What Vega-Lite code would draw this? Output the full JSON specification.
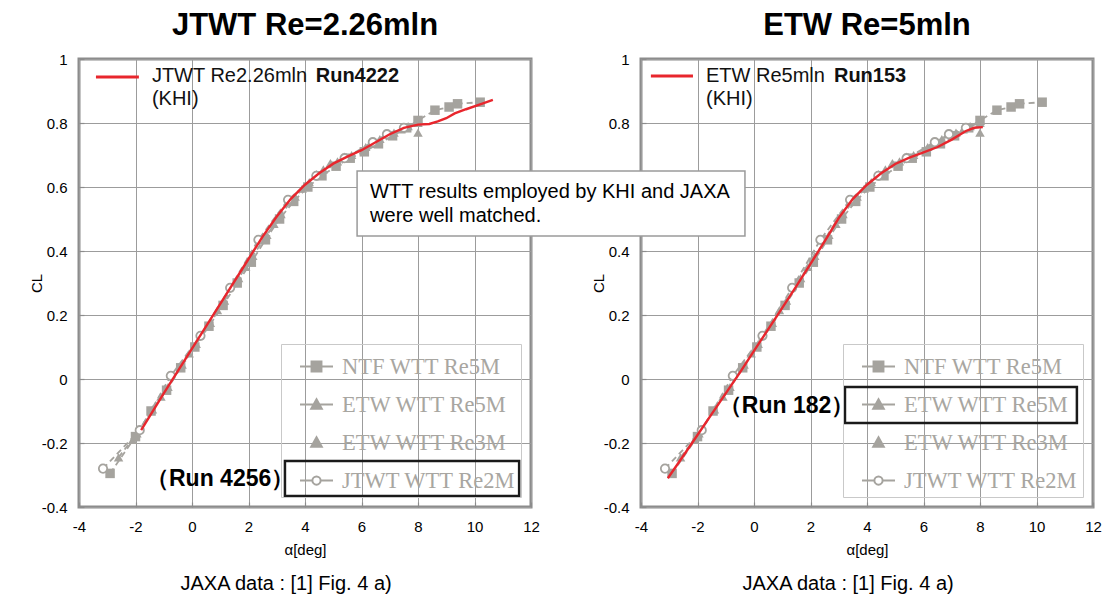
{
  "$schema": "https://vega.github.io/schema/vega-lite/v6.json",
  "padding": {"left": 27, "top": 8, "right": 4, "bottom": 5},
  "bounds": "flush",
  "spacing": 110,
  "config": {
    "view": {"stroke": "#8c8c8c", "strokeWidth": 3},
    "font": "Liberation Sans",
    "title": {"font": "Liberation Sans", "fontSize": 31, "fontWeight": "bold", "color": "#000000", "offset": 10, "anchor": "middle"},
    "axis": {
      "domain": false, "grid": true, "tickSize": -5, "tickColor": "#8c8c8c", "tickWidth": 1.2,
      "labelFont": "Liberation Sans", "labelFontSize": 15, "labelColor": "#000000",
      "titleFont": "Liberation Sans", "titleFontSize": 15, "titleFontWeight": "normal", "titleColor": "#000000",
      "labelFlush": false, "labelOverlap": false, "gridWidth": 1
    },
    "legend": {"orient": "bottom-right", "offset": 10, "title": null, "labelFont": "Liberation Serif", "labelFontSize": 22.5, "labelColor": "#a8a6a1", "strokeColor": "#c9c9c9", "padding": 5, "rowPadding": 9, "symbolSize": 1089, "symbolOffset": 13, "symbolStrokeWidth": 2, "labelOffset": 8, "labelLimit": 400}
  },
  "datasets": {
    "jaxa": [
      {"series": "NTF WTT Re5M", "alpha": -2.9, "cl": -0.295},
      {"series": "NTF WTT Re5M", "alpha": -2.0, "cl": -0.18},
      {"series": "NTF WTT Re5M", "alpha": -1.45, "cl": -0.1},
      {"series": "NTF WTT Re5M", "alpha": -0.9, "cl": -0.035},
      {"series": "NTF WTT Re5M", "alpha": -0.4, "cl": 0.035},
      {"series": "NTF WTT Re5M", "alpha": 0.1, "cl": 0.1},
      {"series": "NTF WTT Re5M", "alpha": 0.6, "cl": 0.165},
      {"series": "NTF WTT Re5M", "alpha": 1.1, "cl": 0.23},
      {"series": "NTF WTT Re5M", "alpha": 1.6, "cl": 0.3},
      {"series": "NTF WTT Re5M", "alpha": 2.1, "cl": 0.365},
      {"series": "NTF WTT Re5M", "alpha": 2.6, "cl": 0.435},
      {"series": "NTF WTT Re5M", "alpha": 3.1, "cl": 0.5},
      {"series": "NTF WTT Re5M", "alpha": 3.6, "cl": 0.555},
      {"series": "NTF WTT Re5M", "alpha": 4.1, "cl": 0.6},
      {"series": "NTF WTT Re5M", "alpha": 4.6, "cl": 0.635},
      {"series": "NTF WTT Re5M", "alpha": 5.1, "cl": 0.665},
      {"series": "NTF WTT Re5M", "alpha": 5.6, "cl": 0.69},
      {"series": "NTF WTT Re5M", "alpha": 6.1, "cl": 0.71},
      {"series": "NTF WTT Re5M", "alpha": 6.6, "cl": 0.735},
      {"series": "NTF WTT Re5M", "alpha": 7.1, "cl": 0.76},
      {"series": "NTF WTT Re5M", "alpha": 7.6, "cl": 0.785},
      {"series": "NTF WTT Re5M", "alpha": 8.0, "cl": 0.808},
      {"series": "NTF WTT Re5M", "alpha": 8.6, "cl": 0.84},
      {"series": "NTF WTT Re5M", "alpha": 9.1, "cl": 0.85},
      {"series": "NTF WTT Re5M", "alpha": 9.4, "cl": 0.86},
      {"series": "NTF WTT Re5M", "alpha": 10.2, "cl": 0.865},
      {"series": "ETW WTT Re5M", "alpha": -2.6, "cl": -0.245},
      {"series": "ETW WTT Re5M", "alpha": -1.95, "cl": -0.17},
      {"series": "ETW WTT Re5M", "alpha": -1.4, "cl": -0.095},
      {"series": "ETW WTT Re5M", "alpha": -0.85, "cl": -0.025},
      {"series": "ETW WTT Re5M", "alpha": -0.35, "cl": 0.045},
      {"series": "ETW WTT Re5M", "alpha": 0.15, "cl": 0.11},
      {"series": "ETW WTT Re5M", "alpha": 0.65, "cl": 0.175},
      {"series": "ETW WTT Re5M", "alpha": 1.15, "cl": 0.245},
      {"series": "ETW WTT Re5M", "alpha": 1.65, "cl": 0.315},
      {"series": "ETW WTT Re5M", "alpha": 2.15, "cl": 0.385},
      {"series": "ETW WTT Re5M", "alpha": 2.65, "cl": 0.45},
      {"series": "ETW WTT Re5M", "alpha": 3.15, "cl": 0.515},
      {"series": "ETW WTT Re5M", "alpha": 3.65, "cl": 0.57},
      {"series": "ETW WTT Re5M", "alpha": 4.15, "cl": 0.615},
      {"series": "ETW WTT Re5M", "alpha": 4.65, "cl": 0.655},
      {"series": "ETW WTT Re5M", "alpha": 5.15, "cl": 0.68},
      {"series": "ETW WTT Re5M", "alpha": 5.65, "cl": 0.7},
      {"series": "ETW WTT Re5M", "alpha": 6.15, "cl": 0.725},
      {"series": "ETW WTT Re5M", "alpha": 6.65, "cl": 0.75},
      {"series": "ETW WTT Re5M", "alpha": 7.15, "cl": 0.77},
      {"series": "ETW WTT Re5M", "alpha": 7.65, "cl": 0.79},
      {"series": "ETW WTT Re5M", "alpha": 8.0, "cl": 0.8},
      {"series": "ETW WTT Re3M", "alpha": -2.1, "cl": -0.19},
      {"series": "ETW WTT Re3M", "alpha": -1.1, "cl": -0.055},
      {"series": "ETW WTT Re3M", "alpha": -0.1, "cl": 0.08},
      {"series": "ETW WTT Re3M", "alpha": 0.9, "cl": 0.215},
      {"series": "ETW WTT Re3M", "alpha": 1.9, "cl": 0.35},
      {"series": "ETW WTT Re3M", "alpha": 2.9, "cl": 0.485},
      {"series": "ETW WTT Re3M", "alpha": 3.9, "cl": 0.595},
      {"series": "ETW WTT Re3M", "alpha": 4.4, "cl": 0.64},
      {"series": "ETW WTT Re3M", "alpha": 4.9, "cl": 0.675},
      {"series": "ETW WTT Re3M", "alpha": 5.4, "cl": 0.695},
      {"series": "ETW WTT Re3M", "alpha": 6.3, "cl": 0.735},
      {"series": "ETW WTT Re3M", "alpha": 6.9, "cl": 0.765},
      {"series": "ETW WTT Re3M", "alpha": 7.4, "cl": 0.78},
      {"series": "ETW WTT Re3M", "alpha": 8.0, "cl": 0.77},
      {"series": "JTWT WTT Re2M", "alpha": -3.15, "cl": -0.28},
      {"series": "JTWT WTT Re2M", "alpha": -1.85, "cl": -0.16},
      {"series": "JTWT WTT Re2M", "alpha": -0.75, "cl": 0.01},
      {"series": "JTWT WTT Re2M", "alpha": 0.3, "cl": 0.135},
      {"series": "JTWT WTT Re2M", "alpha": 1.35, "cl": 0.285},
      {"series": "JTWT WTT Re2M", "alpha": 2.35, "cl": 0.435},
      {"series": "JTWT WTT Re2M", "alpha": 3.4, "cl": 0.56},
      {"series": "JTWT WTT Re2M", "alpha": 4.4, "cl": 0.635},
      {"series": "JTWT WTT Re2M", "alpha": 5.4, "cl": 0.69},
      {"series": "JTWT WTT Re2M", "alpha": 6.4, "cl": 0.74},
      {"series": "JTWT WTT Re2M", "alpha": 6.9, "cl": 0.765},
      {"series": "JTWT WTT Re2M", "alpha": 7.5, "cl": 0.785}
    ],
    "khi_jtwt": [
      {"alpha": -1.8, "cl": -0.16}, {"alpha": -1.0, "cl": -0.045}, {"alpha": 0, "cl": 0.095},
      {"alpha": 1, "cl": 0.235}, {"alpha": 2, "cl": 0.375}, {"alpha": 2.5, "cl": 0.445},
      {"alpha": 3, "cl": 0.508}, {"alpha": 3.5, "cl": 0.563}, {"alpha": 4, "cl": 0.607},
      {"alpha": 4.5, "cl": 0.643}, {"alpha": 5, "cl": 0.673}, {"alpha": 5.5, "cl": 0.695},
      {"alpha": 6, "cl": 0.715}, {"alpha": 6.5, "cl": 0.74}, {"alpha": 7, "cl": 0.765},
      {"alpha": 7.5, "cl": 0.785}, {"alpha": 8, "cl": 0.795}, {"alpha": 8.4, "cl": 0.797},
      {"alpha": 8.7, "cl": 0.805}, {"alpha": 9.0, "cl": 0.815}, {"alpha": 9.3, "cl": 0.83},
      {"alpha": 9.7, "cl": 0.843}, {"alpha": 10.2, "cl": 0.858}, {"alpha": 10.65, "cl": 0.872}
    ],
    "khi_etw": [
      {"alpha": -3.05, "cl": -0.31}, {"alpha": -2.5, "cl": -0.24}, {"alpha": -2, "cl": -0.175},
      {"alpha": -1.5, "cl": -0.11}, {"alpha": -1, "cl": -0.045}, {"alpha": -0.5, "cl": 0.02},
      {"alpha": 0, "cl": 0.088}, {"alpha": 0.5, "cl": 0.155}, {"alpha": 1, "cl": 0.222},
      {"alpha": 1.5, "cl": 0.29}, {"alpha": 2, "cl": 0.36}, {"alpha": 2.5, "cl": 0.43},
      {"alpha": 3, "cl": 0.503}, {"alpha": 3.5, "cl": 0.563}, {"alpha": 4, "cl": 0.607},
      {"alpha": 4.5, "cl": 0.643}, {"alpha": 5, "cl": 0.672}, {"alpha": 5.5, "cl": 0.692},
      {"alpha": 6, "cl": 0.708}, {"alpha": 6.5, "cl": 0.725}, {"alpha": 7, "cl": 0.748},
      {"alpha": 7.5, "cl": 0.775}, {"alpha": 7.8, "cl": 0.785}, {"alpha": 8.1, "cl": 0.787}
    ]
  },
  "resolve": {"scale": {"shape": "independent", "color": "independent"}, "legend": {"shape": "independent", "color": "independent"}},
  "hconcat": [
    {
      "width": 452, "height": 448,
      "title": {"text": "JTWT Re=2.26mln"},
      "layer": [
        {
          "data": {"name": "jaxa"},
          "transform": [{"filter": "datum.series !== 'ETW WTT Re3M'"}],
          "mark": {"type": "line", "strokeDash": [6, 4], "strokeWidth": 1.8, "stroke": "#a5a39e"},
          "encoding": {
            "x": {"field": "alpha", "type": "quantitative", "scale": {"domain": [-4, 12], "nice": false, "zero": false},
              "axis": {"title": "α[deg]", "values": [-4,-3.5,-3,-2.5,-2,-1.5,-1,-0.5,0,0.5,1,1.5,2,2.5,3,3.5,4,4.5,5,5.5,6,6.5,7,7.5,8,8.5,9,9.5,10,10.5,11,11.5,12],
                "labelExpr": "datum.value % 2 === 0 ? '' + datum.value : ''",
                "gridColor": {"condition": {"test": "datum.value % 2 === 0", "value": "#9c9c9c"}, "value": "#cfcfcf"},
                "labelPadding": 17, "titlePadding": 8}},
            "y": {"field": "cl", "type": "quantitative", "scale": {"domain": [-0.4, 1], "nice": false, "zero": false},
              "axis": {"title": "CL", "values": [-0.4,-0.35,-0.3,-0.25,-0.2,-0.15,-0.1,-0.05,0,0.05,0.1,0.15,0.2,0.25,0.3,0.35,0.4,0.45,0.5,0.55,0.6,0.65,0.7,0.75,0.8,0.85,0.9,0.95,1],
                "labelExpr": "abs(datum.value*5 - round(datum.value*5)) < 0.001 ? '' + round(datum.value*10)/10 : ''",
                "gridColor": {"condition": {"test": "abs(datum.value*5 - round(datum.value*5)) < 0.001", "value": "#9c9c9c"}, "value": "#cfcfcf"},
                "labelPadding": 17, "titlePadding": -3}},
            "detail": {"field": "series"},
            "order": {"field": "alpha", "type": "quantitative"}
          }
        },
        {
          "data": {"name": "jaxa"},
          "transform": [{"filter": "datum.series === 'NTF WTT Re5M'"}],
          "mark": {"type": "point", "shape": "square", "filled": true, "size": 90, "opacity": 1, "fill": "#a5a39e"},
          "encoding": {
            "x": {"field": "alpha", "type": "quantitative", "scale": {"domain": [-4, 12], "nice": false, "zero": false}},
            "y": {"field": "cl", "type": "quantitative", "scale": {"domain": [-0.4, 1], "nice": false, "zero": false}}
          }
        },
        {
          "data": {"name": "jaxa"},
          "transform": [{"filter": "datum.series === 'ETW WTT Re5M' || datum.series === 'ETW WTT Re3M'"}],
          "mark": {"type": "point", "shape": "triangle-up", "filled": true, "size": 90, "opacity": 1, "fill": "#a5a39e"},
          "encoding": {
            "x": {"field": "alpha", "type": "quantitative", "scale": {"domain": [-4, 12], "nice": false, "zero": false}},
            "y": {"field": "cl", "type": "quantitative", "scale": {"domain": [-0.4, 1], "nice": false, "zero": false}}
          }
        },
        {
          "data": {"name": "jaxa"},
          "transform": [{"filter": "datum.series === 'JTWT WTT Re2M'"}],
          "mark": {"type": "point", "shape": "circle", "size": 70, "opacity": 1, "fill": "#ffffff", "stroke": "#a5a39e", "strokeWidth": 1.8},
          "encoding": {
            "x": {"field": "alpha", "type": "quantitative", "scale": {"domain": [-4, 12], "nice": false, "zero": false}},
            "y": {"field": "cl", "type": "quantitative", "scale": {"domain": [-0.4, 1], "nice": false, "zero": false}}
          }
        },
        {
          "data": {"name": "khi_jtwt"},
          "mark": {"type": "line", "stroke": "#e8262d", "strokeWidth": 2.4},
          "encoding": {
            "x": {"field": "alpha", "type": "quantitative", "scale": {"domain": [-4, 12], "nice": false, "zero": false}},
            "y": {"field": "cl", "type": "quantitative", "scale": {"domain": [-0.4, 1], "nice": false, "zero": false}}
          }
        },
        {
          "data": {"name": "jaxa"},
          "transform": [{"filter": "false"}],
          "mark": {"type": "point", "filled": false, "opacity": 1, "strokeWidth": 2},
          "encoding": {
            "x": {"field": "alpha", "type": "quantitative", "scale": {"domain": [-4, 12], "nice": false, "zero": false}},
            "y": {"field": "cl", "type": "quantitative", "scale": {"domain": [-0.4, 1], "nice": false, "zero": false}},
            "shape": {"field": "series", "type": "nominal", "scale": {"domain": ["NTF WTT Re5M", "ETW WTT Re5M", "ETW WTT Re3M", "JTWT WTT Re2M"],
              "range": [
                "M-1,0H1M-0.3,-0.3H0.3V0.3H-0.3ZM-0.3,-0.2H0.3M-0.3,-0.1H0.3M-0.3,0.1H0.3M-0.3,0.2H0.3",
                "M-1,0H1M0,-0.32L0.32,0.26H-0.32ZM-0.066,-0.2H0.066M-0.121,-0.1H0.121M-0.232,0.1H0.232M-0.287,0.2H0.287",
                "M0,-0.32L0.32,0.26H-0.32ZM-0.066,-0.2H0.066M-0.121,-0.1H0.121M-0.177,0H0.177M-0.232,0.1H0.232M-0.287,0.2H0.287",
                "M-1,0H-0.25M0.25,0H1M-0.25,0A0.25,0.25,0,1,0,0.25,0A0.25,0.25,0,1,0,-0.25,0Z"]}},
            "color": {"field": "series", "type": "nominal", "scale": {"domain": ["NTF WTT Re5M", "ETW WTT Re5M", "ETW WTT Re3M", "JTWT WTT Re2M"], "range": ["#a5a39e", "#a5a39e", "#a5a39e", "#a5a39e"]}}
          }
        },
        {
          "data": {"values": [{}]},
          "mark": {"type": "rect", "fillOpacity": 0, "stroke": "#1a1a1a", "strokeWidth": 2.5},
          "encoding": {
            "x": {"datum": 3.29, "type": "quantitative", "scale": {"domain": [-4, 12], "nice": false, "zero": false}},
            "x2": {"datum": 11.58},
            "y": {"datum": -0.256, "type": "quantitative", "scale": {"domain": [-0.4, 1], "nice": false, "zero": false}},
            "y2": {"datum": -0.366}
          }
        },
        {
          "data": {"values": [{"label": "（Run 4256）"}]},
          "mark": {"type": "text", "align": "right", "baseline": "middle", "fontSize": 23, "fontWeight": "bold", "color": "#000000"},
          "encoding": {
            "x": {"datum": 3.62, "type": "quantitative", "scale": {"domain": [-4, 12], "nice": false, "zero": false}},
            "y": {"datum": -0.3125, "type": "quantitative", "scale": {"domain": [-0.4, 1], "nice": false, "zero": false}},
            "text": {"field": "label"}
          }
        },
        {
          "data": {"values": [{}]},
          "mark": {"type": "rule", "stroke": "#e8262d", "strokeWidth": 3},
          "encoding": {
            "x": {"datum": -3.4, "type": "quantitative", "scale": {"domain": [-4, 12], "nice": false, "zero": false}},
            "x2": {"datum": -1.88},
            "y": {"datum": 0.944, "type": "quantitative", "scale": {"domain": [-0.4, 1], "nice": false, "zero": false}}
          }
        },
        {
          "data": {"values": [{"label": "JTWT Re2.26mln\n(KHI)"}]},
          "mark": {"type": "text", "align": "left", "baseline": "top", "fontSize": 20, "lineHeight": 23, "lineBreak": "\n", "color": "#111111"},
          "encoding": {
            "x": {"datum": -1.42, "type": "quantitative", "scale": {"domain": [-4, 12], "nice": false, "zero": false}},
            "y": {"datum": 0.978, "type": "quantitative", "scale": {"domain": [-0.4, 1], "nice": false, "zero": false}},
            "text": {"field": "label"}
          }
        },
        {
          "data": {"values": [{"label": "Run4222"}]},
          "mark": {"type": "text", "align": "left", "baseline": "top", "fontSize": 20, "fontWeight": "bold", "color": "#111111"},
          "encoding": {
            "x": {"datum": 4.38, "type": "quantitative", "scale": {"domain": [-4, 12], "nice": false, "zero": false}},
            "y": {"datum": 0.978, "type": "quantitative", "scale": {"domain": [-0.4, 1], "nice": false, "zero": false}},
            "text": {"field": "label"}
          }
        },
        {
          "data": {"values": [{"label": "JAXA data : [1] Fig. 4 a)"}]},
          "mark": {"type": "text", "align": "center", "baseline": "middle", "fontSize": 20, "color": "#000000"},
          "encoding": {
            "x": {"datum": 3.33, "type": "quantitative", "scale": {"domain": [-4, 12], "nice": false, "zero": false}},
            "y": {"datum": -0.64, "type": "quantitative", "scale": {"domain": [-0.4, 1], "nice": false, "zero": false}},
            "text": {"field": "label"}
          }
        }
      ]
    },
    {
      "width": 452, "height": 448,
      "title": {"text": "ETW Re=5mln"},
      "layer": [
        {
          "data": {"name": "jaxa"},
          "transform": [{"filter": "datum.series !== 'ETW WTT Re3M'"}],
          "mark": {"type": "line", "strokeDash": [6, 4], "strokeWidth": 1.8, "stroke": "#a5a39e"},
          "encoding": {
            "x": {"field": "alpha", "type": "quantitative", "scale": {"domain": [-4, 12], "nice": false, "zero": false},
              "axis": {"title": "α[deg]", "values": [-4,-3.5,-3,-2.5,-2,-1.5,-1,-0.5,0,0.5,1,1.5,2,2.5,3,3.5,4,4.5,5,5.5,6,6.5,7,7.5,8,8.5,9,9.5,10,10.5,11,11.5,12],
                "labelExpr": "datum.value % 2 === 0 ? '' + datum.value : ''",
                "gridColor": {"condition": {"test": "datum.value % 2 === 0", "value": "#9c9c9c"}, "value": "#cfcfcf"},
                "labelPadding": 17, "titlePadding": 8}},
            "y": {"field": "cl", "type": "quantitative", "scale": {"domain": [-0.4, 1], "nice": false, "zero": false},
              "axis": {"title": "CL", "values": [-0.4,-0.35,-0.3,-0.25,-0.2,-0.15,-0.1,-0.05,0,0.05,0.1,0.15,0.2,0.25,0.3,0.35,0.4,0.45,0.5,0.55,0.6,0.65,0.7,0.75,0.8,0.85,0.9,0.95,1],
                "labelExpr": "abs(datum.value*5 - round(datum.value*5)) < 0.001 && abs(datum.value - 0.6) > 0.001 ? '' + round(datum.value*10)/10 : ''",
                "gridColor": {"condition": {"test": "abs(datum.value*5 - round(datum.value*5)) < 0.001", "value": "#9c9c9c"}, "value": "#cfcfcf"},
                "labelPadding": 17, "titlePadding": -3}},
            "detail": {"field": "series"},
            "order": {"field": "alpha", "type": "quantitative"}
          }
        },
        {
          "data": {"name": "jaxa"},
          "transform": [{"filter": "datum.series === 'NTF WTT Re5M'"}],
          "mark": {"type": "point", "shape": "square", "filled": true, "size": 90, "opacity": 1, "fill": "#a5a39e"},
          "encoding": {
            "x": {"field": "alpha", "type": "quantitative", "scale": {"domain": [-4, 12], "nice": false, "zero": false}},
            "y": {"field": "cl", "type": "quantitative", "scale": {"domain": [-0.4, 1], "nice": false, "zero": false}}
          }
        },
        {
          "data": {"name": "jaxa"},
          "transform": [{"filter": "datum.series === 'ETW WTT Re5M' || datum.series === 'ETW WTT Re3M'"}],
          "mark": {"type": "point", "shape": "triangle-up", "filled": true, "size": 90, "opacity": 1, "fill": "#a5a39e"},
          "encoding": {
            "x": {"field": "alpha", "type": "quantitative", "scale": {"domain": [-4, 12], "nice": false, "zero": false}},
            "y": {"field": "cl", "type": "quantitative", "scale": {"domain": [-0.4, 1], "nice": false, "zero": false}}
          }
        },
        {
          "data": {"name": "jaxa"},
          "transform": [{"filter": "datum.series === 'JTWT WTT Re2M'"}],
          "mark": {"type": "point", "shape": "circle", "size": 70, "opacity": 1, "fill": "#ffffff", "stroke": "#a5a39e", "strokeWidth": 1.8},
          "encoding": {
            "x": {"field": "alpha", "type": "quantitative", "scale": {"domain": [-4, 12], "nice": false, "zero": false}},
            "y": {"field": "cl", "type": "quantitative", "scale": {"domain": [-0.4, 1], "nice": false, "zero": false}}
          }
        },
        {
          "data": {"name": "khi_etw"},
          "mark": {"type": "line", "stroke": "#e8262d", "strokeWidth": 2.4},
          "encoding": {
            "x": {"field": "alpha", "type": "quantitative", "scale": {"domain": [-4, 12], "nice": false, "zero": false}},
            "y": {"field": "cl", "type": "quantitative", "scale": {"domain": [-0.4, 1], "nice": false, "zero": false}}
          }
        },
        {
          "data": {"name": "jaxa"},
          "transform": [{"filter": "false"}],
          "mark": {"type": "point", "filled": false, "opacity": 1, "strokeWidth": 2},
          "encoding": {
            "x": {"field": "alpha", "type": "quantitative", "scale": {"domain": [-4, 12], "nice": false, "zero": false}},
            "y": {"field": "cl", "type": "quantitative", "scale": {"domain": [-0.4, 1], "nice": false, "zero": false}},
            "shape": {"field": "series", "type": "nominal", "scale": {"domain": ["NTF WTT Re5M", "ETW WTT Re5M", "ETW WTT Re3M", "JTWT WTT Re2M"],
              "range": [
                "M-1,0H1M-0.3,-0.3H0.3V0.3H-0.3ZM-0.3,-0.2H0.3M-0.3,-0.1H0.3M-0.3,0.1H0.3M-0.3,0.2H0.3",
                "M-1,0H1M0,-0.32L0.32,0.26H-0.32ZM-0.066,-0.2H0.066M-0.121,-0.1H0.121M-0.232,0.1H0.232M-0.287,0.2H0.287",
                "M0,-0.32L0.32,0.26H-0.32ZM-0.066,-0.2H0.066M-0.121,-0.1H0.121M-0.177,0H0.177M-0.232,0.1H0.232M-0.287,0.2H0.287",
                "M-1,0H-0.25M0.25,0H1M-0.25,0A0.25,0.25,0,1,0,0.25,0A0.25,0.25,0,1,0,-0.25,0Z"]}},
            "color": {"field": "series", "type": "nominal", "scale": {"domain": ["NTF WTT Re5M", "ETW WTT Re5M", "ETW WTT Re3M", "JTWT WTT Re2M"], "range": ["#a5a39e", "#a5a39e", "#a5a39e", "#a5a39e"]}}
          }
        },
        {
          "data": {"values": [{}]},
          "mark": {"type": "rect", "fillOpacity": 0, "stroke": "#1a1a1a", "strokeWidth": 2.5},
          "encoding": {
            "x": {"datum": 3.22, "type": "quantitative", "scale": {"domain": [-4, 12], "nice": false, "zero": false}},
            "x2": {"datum": 11.43},
            "y": {"datum": -0.025, "type": "quantitative", "scale": {"domain": [-0.4, 1], "nice": false, "zero": false}},
            "y2": {"datum": -0.1375}
          }
        },
        {
          "data": {"values": [{"label": "（Run 182）"}]},
          "mark": {"type": "text", "align": "right", "baseline": "middle", "fontSize": 23, "fontWeight": "bold", "color": "#000000"},
          "encoding": {
            "x": {"datum": 3.55, "type": "quantitative", "scale": {"domain": [-4, 12], "nice": false, "zero": false}},
            "y": {"datum": -0.084, "type": "quantitative", "scale": {"domain": [-0.4, 1], "nice": false, "zero": false}},
            "text": {"field": "label"}
          }
        },
        {
          "data": {"values": [{}]},
          "mark": {"type": "rule", "stroke": "#e8262d", "strokeWidth": 3},
          "encoding": {
            "x": {"datum": -3.65, "type": "quantitative", "scale": {"domain": [-4, 12], "nice": false, "zero": false}},
            "x2": {"datum": -2.16},
            "y": {"datum": 0.947, "type": "quantitative", "scale": {"domain": [-0.4, 1], "nice": false, "zero": false}}
          }
        },
        {
          "data": {"values": [{"label": "ETW Re5mln\n(KHI)"}]},
          "mark": {"type": "text", "align": "left", "baseline": "top", "fontSize": 20, "lineHeight": 23, "lineBreak": "\n", "color": "#111111"},
          "encoding": {
            "x": {"datum": -1.7, "type": "quantitative", "scale": {"domain": [-4, 12], "nice": false, "zero": false}},
            "y": {"datum": 0.978, "type": "quantitative", "scale": {"domain": [-0.4, 1], "nice": false, "zero": false}},
            "text": {"field": "label"}
          }
        },
        {
          "data": {"values": [{"label": "Run153"}]},
          "mark": {"type": "text", "align": "left", "baseline": "top", "fontSize": 20, "fontWeight": "bold", "color": "#111111"},
          "encoding": {
            "x": {"datum": 2.83, "type": "quantitative", "scale": {"domain": [-4, 12], "nice": false, "zero": false}},
            "y": {"datum": 0.978, "type": "quantitative", "scale": {"domain": [-0.4, 1], "nice": false, "zero": false}},
            "text": {"field": "label"}
          }
        },
        {
          "data": {"values": [{"label": "JAXA data : [1] Fig. 4 a)"}]},
          "mark": {"type": "text", "align": "center", "baseline": "middle", "fontSize": 20, "color": "#000000"},
          "encoding": {
            "x": {"datum": 3.33, "type": "quantitative", "scale": {"domain": [-4, 12], "nice": false, "zero": false}},
            "y": {"datum": -0.64, "type": "quantitative", "scale": {"domain": [-0.4, 1], "nice": false, "zero": false}},
            "text": {"field": "label"}
          }
        },
        {
          "data": {"values": [{}]},
          "mark": {"type": "rect", "fill": "#ffffff", "stroke": "#9a9a9a", "strokeWidth": 1.5},
          "encoding": {
            "x": {"datum": -14.05, "type": "quantitative", "scale": {"domain": [-4, 12], "nice": false, "zero": false}},
            "x2": {"datum": -0.32},
            "y": {"datum": 0.65, "type": "quantitative", "scale": {"domain": [-0.4, 1], "nice": false, "zero": false}},
            "y2": {"datum": 0.447}
          }
        },
        {
          "data": {"values": [{"label": "WTT results employed by KHI and JAXA\nwere well matched."}]},
          "mark": {"type": "text", "align": "left", "baseline": "top", "fontSize": 20, "lineHeight": 24, "lineBreak": "\n", "color": "#000000"},
          "encoding": {
            "x": {"datum": -13.59, "type": "quantitative", "scale": {"domain": [-4, 12], "nice": false, "zero": false}},
            "y": {"datum": 0.616, "type": "quantitative", "scale": {"domain": [-0.4, 1], "nice": false, "zero": false}},
            "text": {"field": "label"}
          }
        }
      ]
    }
  ]
}
